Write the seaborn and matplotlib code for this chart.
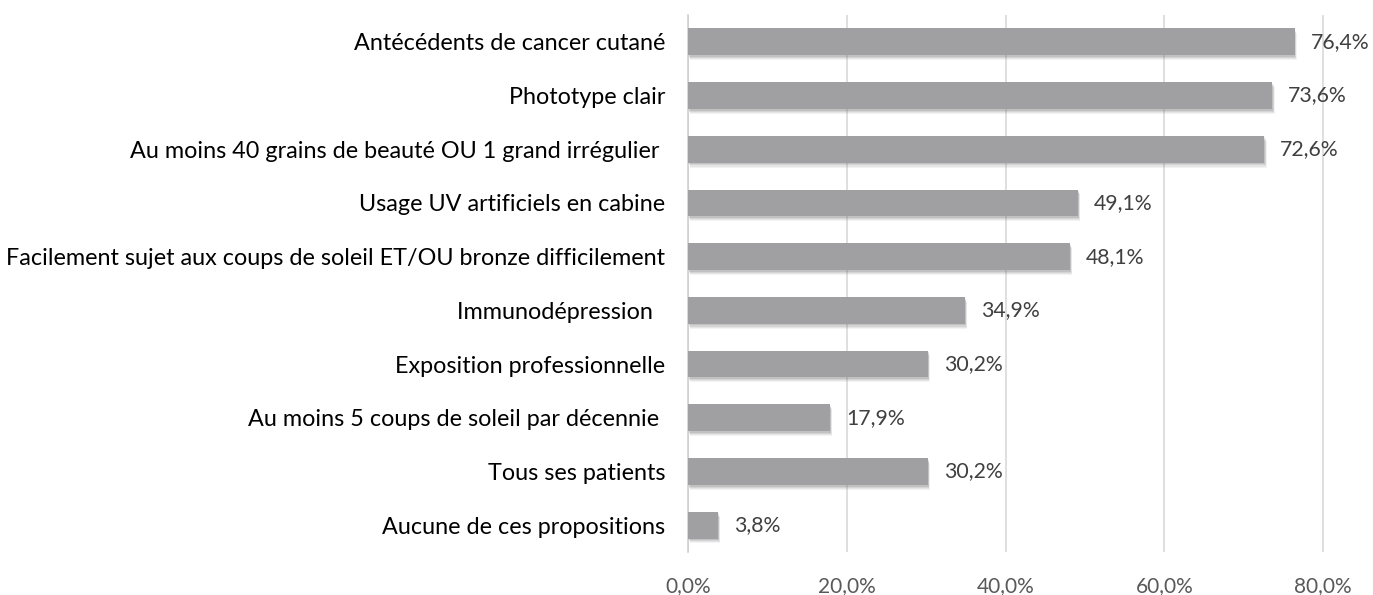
import matplotlib
matplotlib.use("Agg")
import matplotlib.pyplot as plt
import matplotlib.patheffects as pe
import seaborn as sns
import pandas as pd
import numpy as np

categories = [
    "Antécédents de cancer cutané",
    "Phototype clair",
    "Au moins 40 grains de beauté OU 1 grand irrégulier ",
    "Usage UV artificiels en cabine",
    "Facilement sujet aux coups de soleil ET/OU bronze difficilement",
    "Immunodépression  ",
    "Exposition professionnelle",
    "Au moins 5 coups de soleil par décennie ",
    "Tous ses patients",
    "Aucune de ces propositions",
]
values = [76.4, 73.6, 72.6, 49.1, 48.1, 34.9, 30.2, 17.9, 30.2, 3.8]
xticks = [0, 20, 40, 60, 80]

df = pd.DataFrame({"cat": categories, "val": values})

sns.set_theme(style="white")
plt.rcParams["font.family"] = ["Lato", "DejaVu Sans"]

fig = plt.figure(figsize=(13.73, 5.95), dpi=100)
ax = fig.add_axes([688/1373, 1-552/595, 667/1373, (552-15)/595])

sns.barplot(data=df, x="val", y="cat", orient="h", color="#a0a0a3",
            width=0.5, saturation=1, ax=ax, zorder=3)
shadow = [pe.SimplePatchShadow(offset=(dx, dy), alpha=a, shadow_rgbFace="#707070")
          for dx, dy, a in [(1.5, -3.5, 0.08), (1.2, -2.8, 0.10), (0.9, -2.0, 0.14), (0.6, -1.2, 0.18)]]
for p in ax.patches:
    p.set_path_effects(shadow + [pe.Normal()])
    p.set_edgecolor("none")

ax.set_xlim(0, 84)
ax.set_ylim(9.5, -0.5)
ax.set_xticks(xticks)
ax.set_xticklabels([f"{t:.1f}%".replace(".", ",") for t in xticks], color="#595959", fontsize=15)
ax.xaxis.grid(True, color="#d9d9d9", linewidth=1.2, zorder=0)
ax.set_axisbelow(True)
ax.tick_params(axis="x", length=0, pad=17)
ax.tick_params(axis="y", which="major", length=0, pad=16.5, labelsize=16.8, labelcolor="black")
ax.set_yticks(np.arange(-0.5, 10, 1), minor=True)
ax.tick_params(axis="y", which="minor", length=6, width=1.2, color="#d0d0d0")
ax.set_xlabel("")
ax.set_ylabel("")
for s in ["top", "right", "bottom"]:
    ax.spines[s].set_visible(False)
ax.spines["left"].set_color("#d0d0d0")
ax.spines["left"].set_linewidth(1.2)

for i, v in enumerate(values):
    ax.text(v + 2.0, i, f"{v:.1f}%".replace(".", ","), va="center", ha="left",
            color="#404040", fontsize=15.3)

fig.savefig("out.png", dpi=100)
